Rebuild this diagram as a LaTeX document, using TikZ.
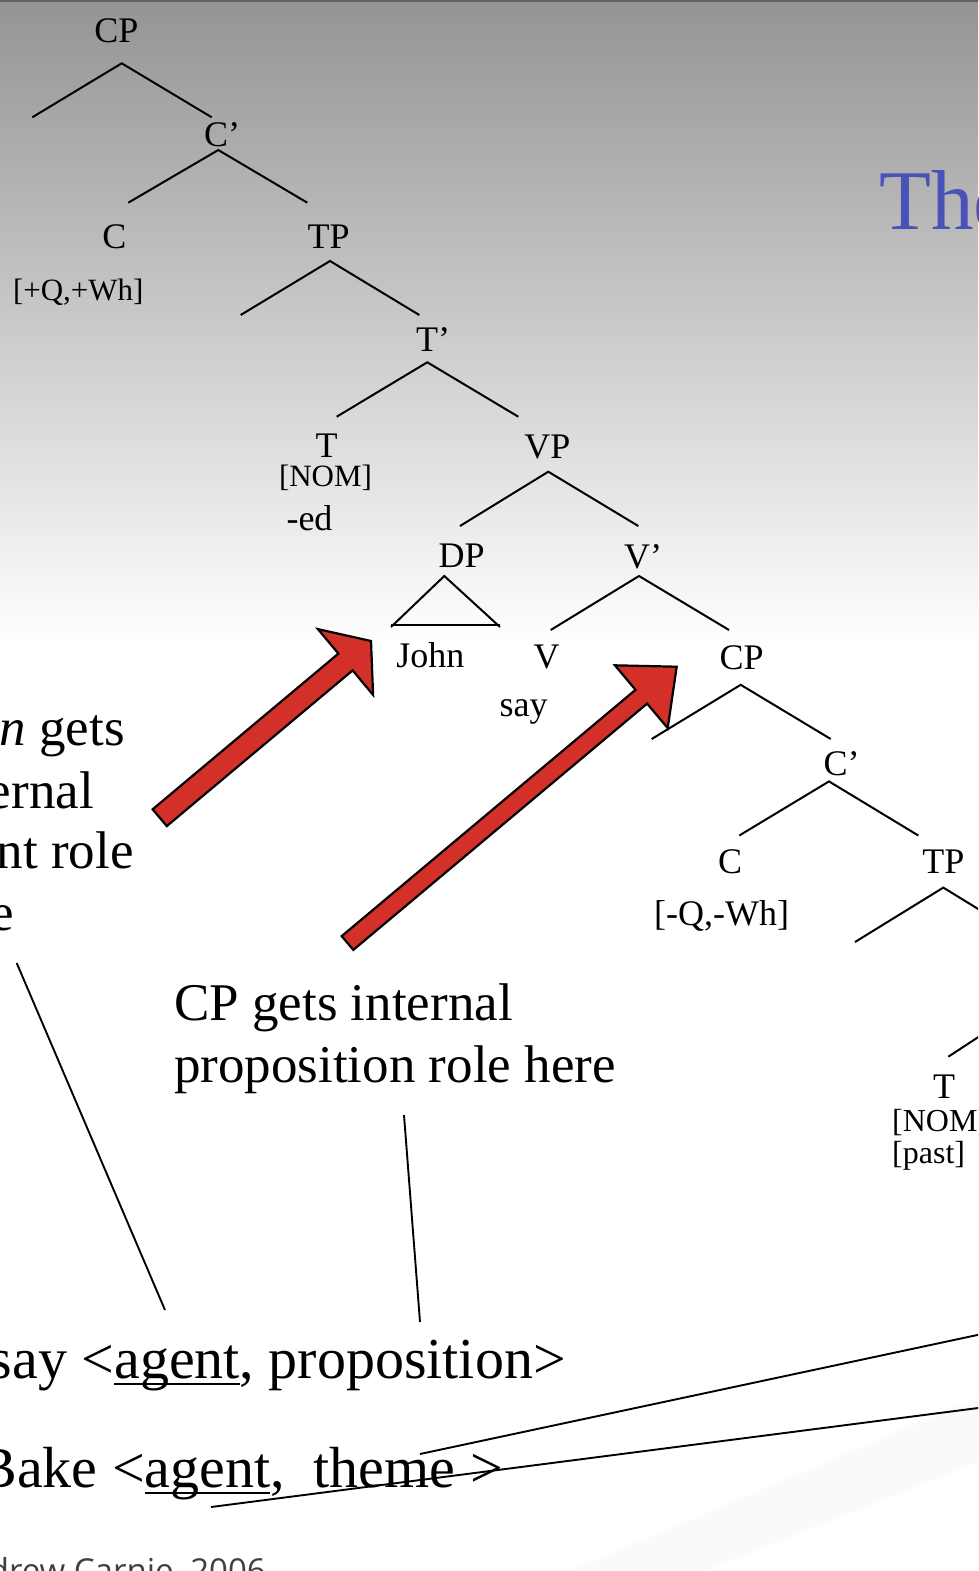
\documentclass[tikz,border=0pt]{standalone}
\usepackage{fontspec}
\setmainfont{Liberation Serif}
\newfontfamily\footfont{Open Sans}
\usetikzlibrary{calc}
\definecolor{arrred}{RGB}{210,48,40}
\definecolor{titleblue}{RGB}{72,82,184}
\newsavebox\ulbox
\newcommand\myul[1]{\sbox\ulbox{#1}\rlap{\rule[-0.12em]{\wd\ulbox}{2.4pt}}\usebox\ulbox}
\begin{document}
\begin{tikzpicture}[x=1pt,y=-1pt,
  lbl/.style={inner sep=0pt, anchor=base, font=\fontsize{36}{40}\selectfont},
  feat/.style={inner sep=0pt, anchor=base, font=\fontsize{31}{36}\selectfont},
  featw/.style={inner sep=0pt, anchor=base west, font=\fontsize{32}{36}\selectfont},
  bigtxt/.style={inner sep=0pt, anchor=base west, font=\fontsize{53}{62}\selectfont},
  bottxt/.style={inner sep=0pt, anchor=base east, font=\fontsize{58}{66}\selectfont},
  branch/.style={line width=2pt},
  callout/.style={line width=1.9pt},
  redarrow/.style={fill=arrred, draw=black, line width=2.2pt, line join=miter}]
\useasboundingbox (0,0) rectangle (978,1571);
\clip (0,0) rectangle (978,1571);
% background
\fill[white] (0,0) rectangle (978,1571);
\shade[top color=black!42, bottom color=white] (0,0) rectangle (978,645);
\fill[black!62] (0,0) rectangle (978,2.5);
\fill[black!2] (571,1571) -- (978,1398) -- (978,1462) -- (704,1571) -- cycle;

% title
\node[anchor=base west, inner sep=0pt, font=\fontsize{85}{90}\selectfont, text=titleblue] (title) at (879,229.3) {The};

% ---------- upper tree ----------
\node[lbl] (cp1) at (116.5,42.7) {CP};
\coordinate (cp1a) at (121.7,63.3);
\coordinate (cp1l) at (32.3,117.3);
\coordinate (cp1r) at (211.7,117.3);
\draw[branch] (cp1l) -- (cp1a) -- (cp1r);

\node[lbl] (cbar1) at (222,146.7) {C’};
\coordinate (cb1a) at (218.3,150);
\coordinate (cb1l) at (128.3,202.7);
\coordinate (cb1r) at (307.3,202.7);
\draw[branch] (cb1l) -- (cb1a) -- (cb1r);

\node[lbl] (c1) at (114.3,248.3) {C};
\node[feat] (cf1) at (78.3,300) {[+Q,+Wh]};
\node[lbl] (tp1) at (328.7,248.3) {TP};
\coordinate (tp1a) at (330,261);
\coordinate (tp1l) at (240.7,315);
\coordinate (tp1r) at (419.3,315);
\draw[branch] (tp1l) -- (tp1a) -- (tp1r);

\node[lbl] (tbar1) at (433,351.7) {T’};
\coordinate (tb1a) at (427.3,362.3);
\coordinate (tb1l) at (336.7,416.7);
\coordinate (tb1r) at (518.3,416.7);
\draw[branch] (tb1l) -- (tb1a) -- (tb1r);

\node[lbl] (t1) at (326.7,457.7) {T};
\node[feat] (nom1) at (325.5,486) {[NOM]};
\node[lbl] (ed) at (309.5,530) {-ed};

\node[lbl] (vp) at (547.3,458.3) {VP};
\coordinate (vpa) at (548.3,471.7);
\coordinate (vpl) at (460,526);
\coordinate (vpr) at (638.3,526);
\draw[branch] (vpl) -- (vpa) -- (vpr);

\node[lbl] (dp) at (461.7,567.3) {DP};
\coordinate (dpa) at (444.3,576);
\coordinate (dpl) at (391,627);
\coordinate (dpr) at (500,627);
\draw[branch] (dpl) -- (dpa) -- (dpr);
\draw[branch] ($(dpl)+(0,-2)$) -- ($(dpr)+(0,-2)$);

\node[lbl] (vbar) at (643,568.3) {V’};
\coordinate (vba) at (639,576);
\coordinate (vbl) at (550.7,630);
\coordinate (vbr) at (729,630);
\draw[branch] (vbl) -- (vba) -- (vbr);

\node[lbl] (john) at (430.3,667.7) {John};
\node[lbl] (v) at (546.7,668.3) {V};
\node[lbl] (say) at (523.5,716.7) {say};

% ---------- lower tree ----------
\node[lbl] (cp2) at (741.7,669) {CP};
\coordinate (cp2a) at (740.7,684.8);
\coordinate (cp2l) at (651.7,739);
\coordinate (cp2r) at (830.7,739);
\draw[branch] (cp2l) -- (cp2a) -- (cp2r);

\node[lbl] (cbar2) at (841.7,775) {C’};
\coordinate (cb2a) at (829,781.4);
\coordinate (cb2l) at (739.3,835.5);
\coordinate (cb2r) at (918.3,835.5);
\draw[branch] (cb2l) -- (cb2a) -- (cb2r);

\node[lbl] (c2) at (730,873.5) {C};
\node[lbl] (cf2) at (721.7,925) {[-Q,-Wh]};
\node[lbl] (tp2) at (943.3,873.5) {TP};
\coordinate (tp2a) at (943.3,887.6);
\coordinate (tp2l) at (855,942);
\coordinate (tp2r) at (1032,942);
\draw[branch] (tp2l) -- (tp2a) -- (tp2r);
\coordinate (tb2a) at (1035,1000);
\coordinate (tb2l) at (948.3,1056.7);
\draw[branch] (tb2l) -- (tb2a);

\node[lbl] (t2) at (944,1098) {T};
\node[featw] (nom2) at (892,1131) {[NOM]};
\node[featw] (past) at (892,1163) {[past]};

% ---------- red arrows ----------
\draw[redarrow] (166.8,826.1) -- (152.6,809.3) -- (338.4,653.6) -- (317.9,629.1)
  -- (371,641) -- (373.1,694.9) -- (352.6,670.4) -- cycle;
\draw[redarrow] (353.3,949.9) -- (341.7,936.1) -- (635.5,689.8) -- (614.9,665.3)
  -- (676.7,666.7) -- (667.7,728.1) -- (647.1,703.6) -- cycle;

% ---------- explanatory text ----------
\node[bigtxt] (ext1) at (-77,745) {\textit{John} gets};
\node[bigtxt] (ext2) at (-77,808.3) {external};
\node[bigtxt] (ext3) at (-77,868.3) {agent role};
\node[bigtxt] (ext4) at (-77,930) {here};

\node[bigtxt] (int1) at (174,1020) {CP gets internal};
\node[bigtxt] (int2) at (174,1082) {proposition role here};

\node[bottxt] (sayline) at (566,1378) {say <\myul{agent}, proposition>};
\node[bottxt] (bakeline) at (503,1487) {Bake <\myul{agent},\ \ theme\ >};

% ---------- callout lines ----------
\coordinate (l1s) at (16.7,963);
\coordinate (l1e) at (165,1310);
\draw[callout] (l1s) -- (l1e);
\coordinate (l2s) at (404,1115);
\coordinate (l2e) at (420,1322);
\draw[callout] (l2s) -- (l2e);
\coordinate (l3s) at (420,1454);
\coordinate (l3e) at (982,1334);
\draw[callout] (l3s) -- (l3e);
\coordinate (l4s) at (211,1507);
\coordinate (l4e) at (982,1407.5);
\draw[callout] (l4s) -- (l4e);

% footer
\node[anchor=base east, inner sep=0pt, font={\footfont\fontsize{33}{36}\selectfont}, text=black!75] (foot) at (266,1582) {Andrew Carnie, 2006};
\end{tikzpicture}
\end{document}
